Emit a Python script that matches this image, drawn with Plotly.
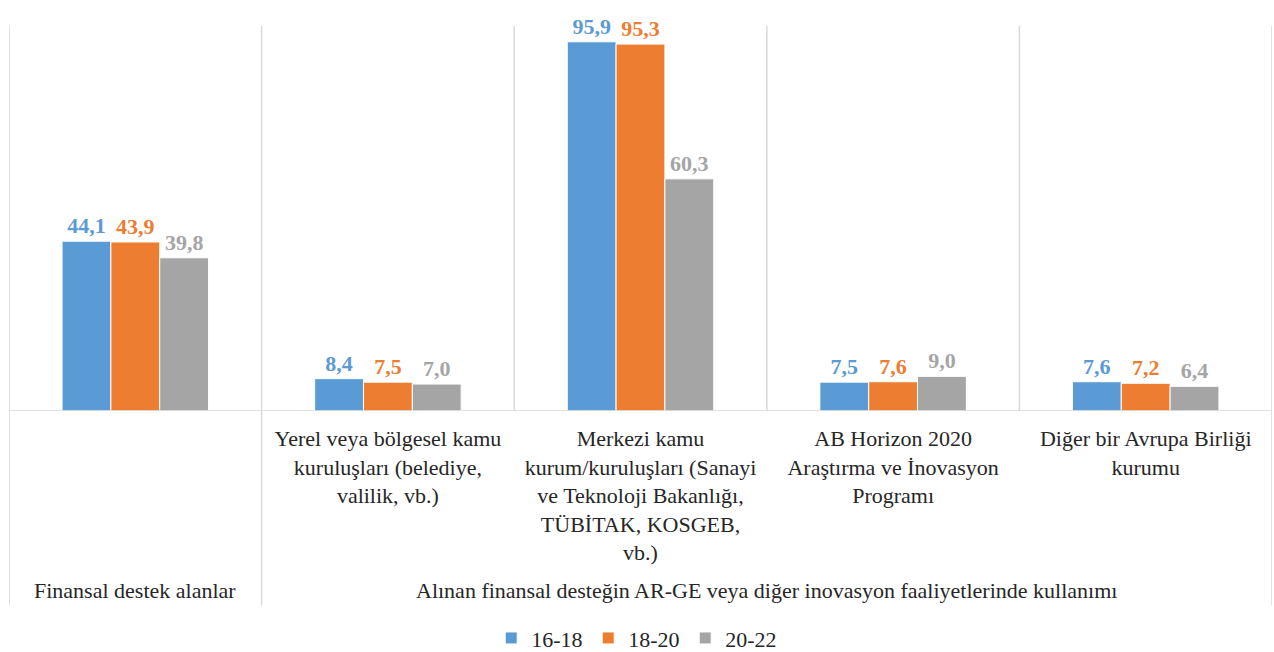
import plotly.graph_objects as go

categories = [
    "Finansal destek alanlar",
    "Yerel veya bölgesel kamu<br>kuruluşları (belediye,<br>valilik, vb.)",
    "Merkezi kamu<br>kurum/kuruluşları (Sanayi<br>ve Teknoloji Bakanlığı,<br>TÜBİTAK, KOSGEB,<br>vb.)",
    "AB Horizon 2020<br>Araştırma ve İnovasyon<br>Programı",
    "Diğer bir Avrupa Birliği<br>kurumu",
]
tick_labels = ["", categories[1], categories[2], categories[3], categories[4]]
group_labels = ["Finansal destek alanlar",
                "Alınan finansal desteğin AR-GE veya diğer inovasyon faaliyetlerinde kullanımı"]
series_names = ["16-18", "18-20", "20-22"]
values_16_18 = [44.1, 8.4, 95.9, 7.5, 7.6]
values_18_20 = [43.9, 7.5, 95.3, 7.6, 7.2]
values_20_22 = [39.8, 7.0, 60.3, 9.0, 6.4]
colors = ["#5B9BD5", "#ED7D31", "#A5A5A5"]

FONT = "Liberation Serif"
TEXT_COLOR = "#262626"
x = list(range(len(categories)))

fig = go.Figure()
for name, vals, col in zip(series_names, [values_16_18, values_18_20, values_20_22], colors):
    fig.add_trace(go.Bar(
        x=x, y=vals, name=name,
        marker=dict(color=col, line=dict(color="white", width=1)),
        texttemplate="%{y:.1f}", textposition="outside", cliponaxis=False,
        textfont=dict(family=FONT, size=22, color=col, weight="bold"),
    ))

grid = "#D9D9D9"
shapes = []
for bx in [-0.5, 0.5, 4.5]:
    shapes.append(dict(type="line", xref="x", yref="paper", x0=bx, x1=bx, y0=1, y1=-0.505,
                       line=dict(color=grid, width=1.5)))
for bx in [1.5, 2.5, 3.5]:
    shapes.append(dict(type="line", xref="x", yref="paper", x0=bx, x1=bx, y0=1, y1=0,
                       line=dict(color=grid, width=1.5)))
shapes.append(dict(type="line", xref="x", yref="y", x0=-0.5, x1=4.5, y0=0, y1=0,
                   line=dict(color=grid, width=1.5)))

annotations = [
    dict(text=group_labels[0], x=0, xref="x", y=-0.465, yref="paper", showarrow=False,
         font=dict(family=FONT, size=22, color=TEXT_COLOR), yanchor="middle"),
    dict(text=group_labels[1], x=2.5, xref="x", y=-0.465, yref="paper", showarrow=False,
         font=dict(family=FONT, size=22, color=TEXT_COLOR), yanchor="middle"),
]

fig.update_layout(
    width=1274, height=652,
    margin=dict(l=9, r=2, t=26, b=241, autoexpand=False),
    plot_bgcolor="white", paper_bgcolor="white",
    barmode="group", bargap=0.42, bargroupgap=0,
    separators=",.",
    font=dict(family=FONT, size=22, color=TEXT_COLOR),
    xaxis=dict(range=[-0.5, 4.5], tickmode="array", tickvals=x, ticktext=tick_labels,
               showgrid=False, zeroline=False, showline=False, ticks="", automargin=False,
               ticklabelstandoff=12, tickfont=dict(family=FONT, size=22, color=TEXT_COLOR)),
    yaxis=dict(range=[0, 100], visible=False, showgrid=False, zeroline=False, automargin=False),
    shapes=shapes, annotations=annotations,
    legend=dict(orientation="h", x=0.497, xanchor="center", y=-0.59, yanchor="middle",
                font=dict(family=FONT, size=22, color=TEXT_COLOR), itemwidth=30,
                entrywidth=52, entrywidthmode="pixels",
                traceorder="normal"),
    showlegend=True,
)

fig.write_html("out.html", config={"displayModeBar": False},
               post_script="document.body.style.margin='0';document.body.style.overflow='hidden';")
